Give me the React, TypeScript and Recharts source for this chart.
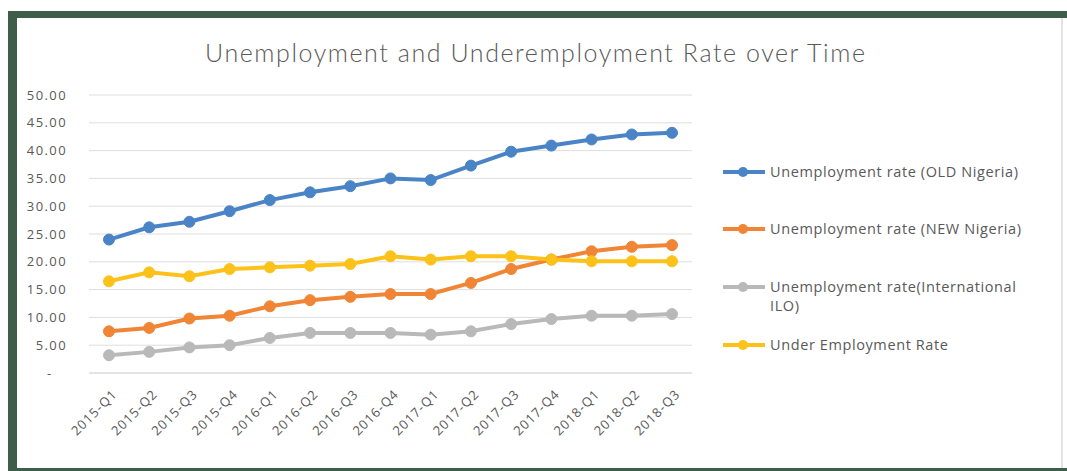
import React from 'react';
import { LineChart, Line, XAxis, YAxis, CartesianGrid } from 'recharts';

const categories = ['2015-Q1', '2015-Q2', '2015-Q3', '2015-Q4', '2016-Q1', '2016-Q2', '2016-Q3', '2016-Q4', '2017-Q1', '2017-Q2', '2017-Q3', '2017-Q4', '2018-Q1', '2018-Q2', '2018-Q3'];
const oldNigeria = [24.0, 26.2, 27.2, 29.1, 31.1, 32.5, 33.6, 35.0, 34.7, 37.3, 39.8, 40.9, 42.0, 42.9, 43.2];
const newNigeria = [7.5, 8.1, 9.8, 10.3, 12.0, 13.1, 13.7, 14.2, 14.2, 16.2, 18.7, 20.4, 21.9, 22.7, 23.0];
const iloRate = [3.2, 3.8, 4.6, 5.0, 6.3, 7.2, 7.2, 7.2, 6.9, 7.5, 8.8, 9.7, 10.3, 10.3, 10.6];
const underRate = [16.5, 18.1, 17.4, 18.7, 19.0, 19.3, 19.6, 21.0, 20.4, 21.0, 21.0, 20.4, 20.1, 20.1, 20.1];
const seriesNames = ['Unemployment rate (OLD Nigeria)', 'Unemployment rate (NEW Nigeria)', 'Unemployment rate(International ILO)', 'Under Employment Rate'];
const seriesColors = ['#4a84c6', '#ef8535', '#b9b9b9', '#fcc21a'];
const yTicks = [0, 5, 10, 15, 20, 25, 30, 35, 40, 45, 50];
const title = 'Unemployment and Underemployment Rate over Time';

const seriesValues = [oldNigeria, newNigeria, iloRate, underRate];
const data = categories.map((c, i) => ({
  cat: c,
  s0: oldNigeria[i],
  s1: newNigeria[i],
  s2: iloRate[i],
  s3: underRate[i],
}));

const FONT = '"Open Sans", "DejaVu Sans", sans-serif';
const TEXT = '#595959';

const XTick = (props: any) => {
  const { x, y, payload } = props;
  return (
    <text
      transform={`translate(${x + 9},${y + 22}) rotate(-45)`}
      textAnchor="end"
      fontFamily={FONT}
      fontSize={13}
      letterSpacing={1}
      fill={TEXT}
    >
      {payload.value}
    </text>
  );
};

const legendRows = [172, 229, 287, 345];

export default function App() {
  return (
    <div style={{ position: 'absolute', left: 0, top: 0, width: 1067, height: 471, background: '#fff', overflow: 'hidden', fontFamily: FONT }}>
      <div style={{ position: 'absolute', left: 8, top: 11, width: 1059, height: 460, background: '#3e5e49' }} />
      <div style={{ position: 'absolute', left: 17, top: 18, width: 1050, height: 450, background: '#fff' }} />
      <div style={{ position: 'absolute', left: 1061, top: 18, width: 2, height: 450, background: '#e2e2e2' }} />
      <svg style={{ position: 'absolute', left: 0, top: 0 }} width={1067} height={80}>
        <text x={535} y={62} textAnchor="middle" fontFamily='Lato, "Open Sans", sans-serif' fontWeight={300} fontSize={25} fill={TEXT} textLength={660} lengthAdjust="spacing">
          {title}
        </text>
      </svg>
      <div style={{ position: 'absolute', left: 0, top: 0 }}>
        <LineChart width={1067} height={471} data={data} margin={{ top: 95, right: 375, bottom: 0, left: 0 }}>
          <CartesianGrid vertical={false} stroke="#dedede" strokeWidth={1} />
          <XAxis
            dataKey="cat"
            height={98}
            interval={0}
            padding={{ left: 20, right: 20 }}
            tickLine={false}
            tickSize={0}
            tickMargin={0}
            axisLine={{ stroke: '#d9d9d9' }}
            tick={<XTick />}
          />
          <YAxis
            width={89}
            domain={[0, 50]}
            ticks={yTicks}
            interval={0}
            axisLine={false}
            tickLine={false}
            tickSize={0}
            tickMargin={22}
            tickFormatter={(v: number) => (v === 0 ? '-\u00A0\u00A0\u00A0' : v.toFixed(2))}
            tick={{ fill: TEXT, fontSize: 13, fontFamily: FONT, letterSpacing: 1.4 }}
          />
          {seriesValues.map((_, k) => (
            <Line
              key={k}
              type="linear"
              dataKey={`s${k}`}
              name={seriesNames[k]}
              stroke={seriesColors[k]}
              strokeWidth={4}
              dot={{ r: 5.5, fill: seriesColors[k], stroke: seriesColors[k], strokeWidth: 1 }}
              activeDot={false}
              isAnimationActive={false}
            />
          ))}
        </LineChart>
      </div>
      {seriesNames.map((name, k) => (
        <div key={k} style={{ position: 'absolute', left: 723, top: legendRows[k] - 10, width: 330 }}>
          <svg width={44} height={20} style={{ position: 'absolute', left: 0, top: 0 }}>
            <line x1={0} y1={10} x2={42} y2={10} stroke={seriesColors[k]} strokeWidth={4} />
            <circle cx={20} cy={10} r={5} fill={seriesColors[k]} />
          </svg>
          <div style={{ position: 'absolute', left: 47, top: 0, width: 270, fontSize: 14.5, lineHeight: '19px', color: TEXT, letterSpacing: 0.6, whiteSpace: 'normal' }}>
            {name}
          </div>
        </div>
      ))}
    </div>
  );
}
